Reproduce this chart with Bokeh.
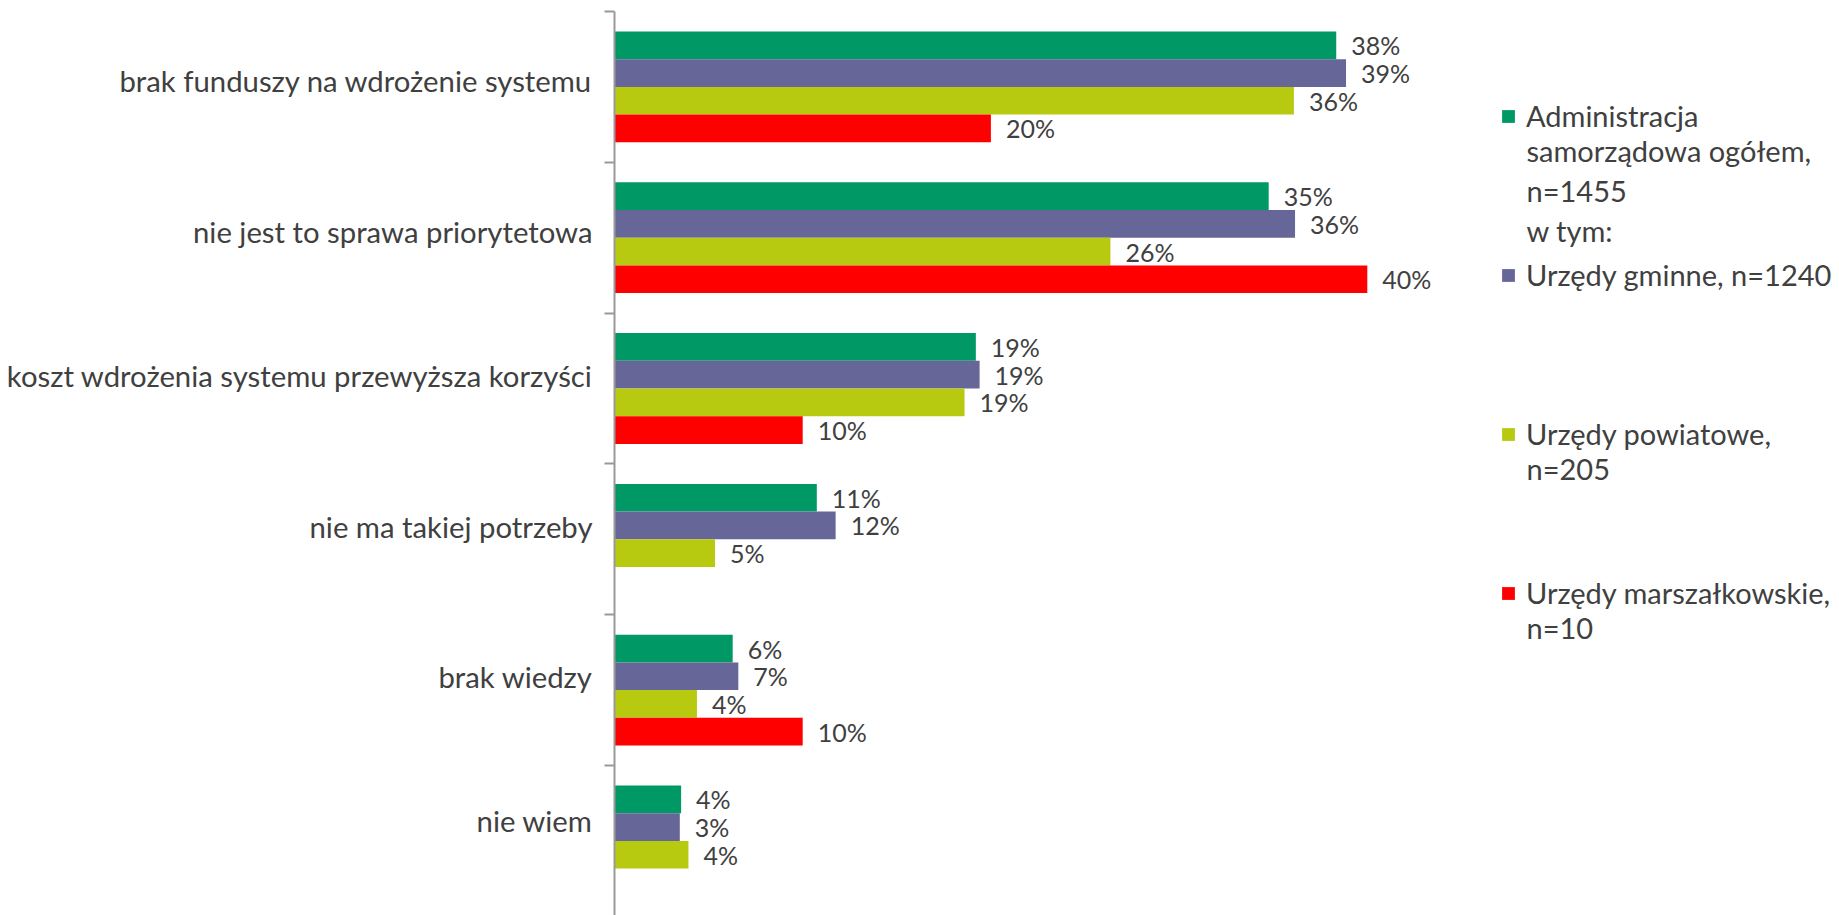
import numpy as np
from bokeh.plotting import figure
from bokeh.models import Range1d, FixedTicker, Legend, LegendItem, Label
from bokeh.core.properties import value
from bokeh.embed import file_html
from bokeh.resources import INLINE

# ---------------- data ----------------
categories = [
    "brak funduszy na wdrożenie systemu",
    "nie jest to sprawa priorytetowa",
    "koszt wdrożenia systemu przewyższa korzyści",
    "nie ma takiej potrzeby",
    "brak wiedzy",
    "nie wiem",
]
series_names = [
    ["Administracja", "samorządowa ogółem,", "n=1455", "w tym:"],
    ["Urzędy gminne, n=1240"],
    ["Urzędy powiatowe,", "n=205"],
    ["Urzędy marszałkowskie,", "n=10"],
]
admin_total = [38.35, 34.76, 19.2, 10.75, 6.28, 3.54]
gminne = [38.87, 36.16, 19.4, 11.75, 6.58, 3.47]
powiatowe = [36.1, 26.35, 18.6, 5.34, 4.38, 3.93]
marszalkowskie = [20.0, 40.0, 10.0, None, 10.0, None]

labels_admin = ["38%", "35%", "19%", "11%", "6%", "4%"]
labels_gminne = ["39%", "36%", "19%", "12%", "7%", "3%"]
labels_powiatowe = ["36%", "26%", "19%", "5%", "4%", "4%"]
labels_marsz = ["20%", "40%", "10%", "", "10%", ""]

colors = ["#009966", "#666699", "#B7CA10", "#FF0000"]

# ---------------- layout ----------------
W, H = 1836, 915
FL = 614          # frame left
TOP = 11
PX_PER_PCT = 18.82
PX_PER_CAT = 150.8
FONT = "Lato"
TXT = "#404040"
# vertical nudge (px, upwards) of each category label, as laid out in the original
label_nudge_px = [6, 6, 13, 13, 14, 20]

n = len(categories)
p = figure(width=W, height=H, output_backend="svg", toolbar_location=None,
           x_range=Range1d(0, (W - FL) / PX_PER_PCT),
           y_range=Range1d(n - (H - TOP) / PX_PER_CAT, n),
           x_axis_location=None,
           min_border_left=FL, min_border_right=0,
           min_border_top=TOP, min_border_bottom=0)
p.outline_line_color = None
p.grid.visible = False
p.background_fill_color = "white"
p.border_fill_color = "white"

centers = [n - 0.5 - i for i in range(n)]
label_pos = [c + d / PX_PER_CAT for c, d in zip(centers, label_nudge_px)]
ax = p.yaxis[0]
ax.ticker = FixedTicker(ticks=label_pos, minor_ticks=list(range(n + 1)))
ax.major_label_overrides = {c: lab for c, lab in zip(label_pos, categories)}
ax.major_tick_out = 0
ax.major_tick_in = 0
ax.minor_tick_out = 10
ax.minor_tick_in = 0
ax.axis_line_color = "#999999"
ax.axis_line_width = 2
ax.minor_tick_line_color = "#999999"
ax.minor_tick_line_width = 2
ax.major_label_standoff = 12
ax.major_label_text_font = FONT
ax.major_label_text_font_size = "29.3px"
ax.major_label_text_color = TXT

bar_h = 0.1837
offsets = [1.5 * bar_h, 0.5 * bar_h, -0.5 * bar_h, -1.5 * bar_h]
all_vals = [admin_total, gminne, powiatowe, marszalkowskie]
all_labels = [labels_admin, labels_gminne, labels_powiatowe, labels_marsz]

renderers = []
for vals, labs, off, col in zip(all_vals, all_labels, offsets, colors):
    xs = [v for v in vals if v is not None]
    ys = [c + off for c, v in zip(centers, vals) if v is not None]
    ts = [t for t, v in zip(labs, vals) if v is not None]
    r = p.hbar(y=ys, right=xs, left=0, height=bar_h, fill_color=col, line_color=None)
    renderers.append(r)
    p.text(x=xs, y=ys, text=ts, x_offset=15, text_align="left", text_baseline="middle",
           text_font=value(FONT), text_font_size="25px", text_color=TXT)

# ---------------- legend ----------------
LEG_X = 886   # from frame left
entry_centers = [115.5, 274.3, 433.1, 591.9]   # px from top
LINE = 39.7
LINE_SHIFT = -5
ROW_H, SPACING = 40, 119
leg_top = entry_centers[0] - ROW_H / 2
leg_h = 4 * ROW_H + 3 * SPACING
items = [LegendItem(label=lines[0], renderers=[r]) for lines, r in zip(series_names, renderers)]
legend = Legend(items=items, location=(LEG_X, H - (leg_top + leg_h)),
                orientation="vertical", glyph_width=16, glyph_height=16,
                label_height=ROW_H, spacing=SPACING, padding=0, margin=0,
                border_line_alpha=0, background_fill_alpha=0, label_standoff=10,
                label_text_font=FONT, label_text_font_size="29px",
                label_text_color=TXT, label_text_baseline="middle")
p.add_layout(legend)

for lines, yc in zip(series_names, entry_centers):
    for k, line in enumerate(lines[1:], start=1):
        p.add_layout(Label(x=LEG_X + 26, y=H - (yc + k * LINE + LINE_SHIFT),
                           x_units="screen", y_units="screen",
                           text=line, text_baseline="middle", text_align="left",
                           text_font=FONT, text_font_size="29px", text_color=TXT))

open("out.html", "w").write(file_html(p, INLINE))
